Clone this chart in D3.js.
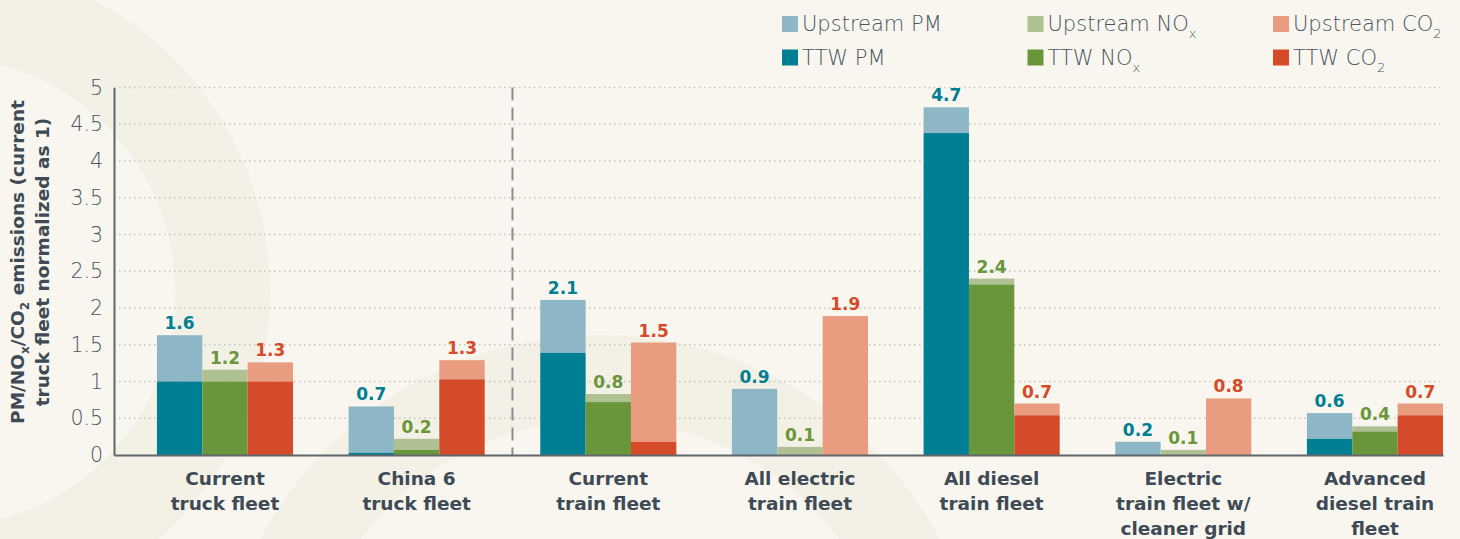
<!DOCTYPE html>
<html>
<head>
<meta charset="utf-8">
<script src="https://cdn.jsdelivr.net/npm/d3@7"></script>
<style>
  body { margin: 0; background: #f8f6ef; }
  svg { display: block; font-family: "DejaVu Sans", sans-serif; }
</style>
</head>
<body>
<div id="chart"></div>
<script>

// categories (line breaks as in the picture)
var categories = [
	["Current", "truck fleet"],
	["China 6", "truck fleet"],
	["Current", "train fleet"],
	["All electric", "train fleet"],
	["All diesel", "train fleet"],
	["Electric", "train fleet w/", "cleaner grid"],
	["Advanced", "diesel train", "fleet"]
];

// TTW = tank-to-wheel part, up = upstream part stacked on top
var ttwPM  = [1.00, 0.03, 1.39, 0.00, 4.38, 0.00, 0.22];
var upPM   = [0.63, 0.63, 0.72, 0.90, 0.35, 0.18, 0.35];
var ttwNOx = [1.00, 0.07, 0.72, 0.00, 2.32, 0.00, 0.32];
var upNOx  = [0.16, 0.15, 0.11, 0.11, 0.08, 0.07, 0.07];
var ttwCO2 = [1.00, 1.03, 0.18, 0.00, 0.54, 0.00, 0.54];
var upCO2  = [0.26, 0.26, 1.35, 1.89, 0.16, 0.77, 0.16];

var yTicks = [0, 0.5, 1, 1.5, 2, 2.5, 3, 3.5, 4, 4.5, 5];

var pollutants = ["PM", "NOx", "CO2"];
var ttwColor = { PM: "#007e93", NOx: "#6a963b", CO2: "#d54a28" };
var upColor  = { PM: "#8db6c6", NOx: "#afc192", CO2: "#e99c7f" };

var series = { PM: [ttwPM, upPM], NOx: [ttwNOx, upNOx], CO2: [ttwCO2, upCO2] };

var width = 1460, height = 539;
var axisLeftX = 114, axisRightX = 1443, y0 = 455, y5 = 87.5;
var textColor = "#3e4a55";

var svg = d3.select("#chart").append("svg")
		.attr("width", width)
		.attr("height", height);

svg.append("rect").attr("width", width).attr("height", height).attr("fill", "#f8f6ef");

// faint background rings
var ring = d3.arc().startAngle(0).endAngle(2 * Math.PI);
svg.append("path")
	.attr("transform", "translate(-60,292)")
	.attr("d", ring({ innerRadius: 235, outerRadius: 330 }))
	.attr("fill", "#f3f0e5");
svg.append("path")
	.attr("transform", "translate(600,720)")
	.attr("d", ring({ innerRadius: 300, outerRadius: 385 }))
	.attr("fill", "#f3f0e5");

var x0 = d3.scaleBand()
		.domain(d3.range(categories.length))
		.range([axisLeftX, axisRightX])
		.paddingInner(0.29)
		.paddingOuter(0.112)
		.align(1);
var x1 = d3.scaleBand().domain(pollutants).range([0, x0.bandwidth()]);
var y = d3.scaleLinear().domain([0, 5]).range([y0, y5]);

// dotted gridlines
svg.append("g").selectAll("line")
	.data(yTicks.filter(function(d) { return d > 0; }))
	.enter().append("line")
	.attr("x1", axisLeftX).attr("x2", axisRightX - 3)
	.attr("y1", function(d) { return y(d); })
	.attr("y2", function(d) { return y(d); })
	.attr("stroke", "#c6c5c0")
	.attr("stroke-width", 1.5)
	.attr("stroke-dasharray", "1.5,3.5");

// dashed divider between trucks and trains
var divX = (x0(1) + x0.bandwidth() + x0(2)) / 2;
svg.append("line")
	.attr("x1", divX).attr("x2", divX)
	.attr("y1", y(5)).attr("y2", y(0))
	.attr("stroke", "#8a8e93")
	.attr("stroke-width", 2)
	.attr("stroke-dasharray", "13,7");

// bars
var groups = svg.append("g").selectAll("g")
	.data(categories)
	.enter().append("g")
	.attr("transform", function(d, i) { return "translate(" + x0(i) + ",0)"; });

var fmt = d3.format(".1f");

pollutants.forEach(function(p) {
	var ttw = series[p][0], up = series[p][1];
	groups.append("rect")
		.attr("x", x1(p))
		.attr("width", x1.bandwidth())
		.attr("y", function(d, i) { return y(ttw[i] + up[i]); })
		.attr("height", function(d, i) { return y(ttw[i]) - y(ttw[i] + up[i]); })
		.attr("fill", upColor[p]);
	groups.append("rect")
		.attr("x", x1(p))
		.attr("width", x1.bandwidth())
		.attr("y", function(d, i) { return y(ttw[i]); })
		.attr("height", function(d, i) { return y(0) - y(ttw[i]); })
		.attr("fill", ttwColor[p]);
	groups.append("text")
		.attr("x", x1(p) + x1.bandwidth() / 2)
		.attr("y", function(d, i) { return y(ttw[i] + up[i]) - 6; })
		.attr("text-anchor", "middle")
		.attr("font-size", 17)
		.attr("font-weight", "bold")
		.attr("fill", ttwColor[p])
		.text(function(d, i) { return fmt(ttw[i] + up[i]); });
});

// axes
var yAxis = svg.append("g")
	.attr("transform", "translate(" + axisLeftX + ",0)")
	.call(d3.axisLeft(y).tickValues(yTicks).tickSize(0).tickPadding(11).tickFormat(d3.format("")));
yAxis.select(".domain").attr("stroke", "#60676d").attr("stroke-width", 2);
yAxis.selectAll("text")
	.attr("font-family", "DejaVu Sans, sans-serif")
	.attr("font-size", 20.5)
	.attr("font-weight", 300)
	.attr("fill", "#4a5560");

var xAxis = svg.append("g")
	.attr("transform", "translate(0," + y0 + ")")
	.call(d3.axisBottom(x0).tickSize(0).tickSizeOuter(0).tickFormat(""));
xAxis.select(".domain").attr("stroke", "#60676d").attr("stroke-width", 2);

xAxis.selectAll(".tick").each(function(i) {
	var t = d3.select(this).append("text")
		.attr("text-anchor", "middle")
		.attr("font-family", "DejaVu Sans, sans-serif")
		.attr("font-size", 18.5)
		.attr("font-weight", "bold")
		.attr("fill", textColor);
	categories[i].forEach(function(line, k) {
		t.append("tspan").attr("x", 0).attr("y", 30 + k * 25).text(line);
	});
});

// y axis title with subscripts
var yTitle = svg.append("text")
	.attr("transform", "translate(24,262) rotate(-90)")
	.attr("text-anchor", "middle")
	.attr("font-size", 18.5)
	.attr("font-weight", "bold")
	.attr("fill", textColor);
var l1 = yTitle.append("tspan").attr("x", 0).attr("y", 0);
l1.append("tspan").text("PM/NO");
l1.append("tspan").attr("font-size", 12).attr("dy", 5).text("x");
l1.append("tspan").attr("dy", -5).text("/CO");
l1.append("tspan").attr("font-size", 12).attr("dy", 5).text("2");
l1.append("tspan").attr("dy", -5).text(" emissions (current");
yTitle.append("tspan").attr("x", 0).attr("y", 25).text("truck fleet normalized as 1)");

// legend
var legendItems = [
	{ name: "Upstream PM", sub: "", color: upColor.PM },
	{ name: "Upstream NO", sub: "x", color: upColor.NOx },
	{ name: "Upstream CO", sub: "2", color: upColor.CO2 },
	{ name: "TTW PM", sub: "", color: ttwColor.PM },
	{ name: "TTW NO", sub: "x", color: ttwColor.NOx },
	{ name: "TTW CO", sub: "2", color: ttwColor.CO2 }
];
var legend = svg.append("g").selectAll("g")
	.data(legendItems)
	.enter().append("g")
	.attr("transform", function(d, i) { return "translate(" + (782 + (i % 3) * 245.5) + "," + (16 + Math.floor(i / 3) * 33.5) + ")"; });
legend.append("rect").attr("width", 16).attr("height", 16).attr("fill", function(d) { return d.color; });
var lt = legend.append("text")
	.attr("x", 20).attr("y", 15)
	.attr("font-size", 21)
	.attr("font-weight", 300)
	.attr("fill", "#4a5560");
lt.append("tspan").text(function(d) { return d.name; });
lt.append("tspan").attr("font-size", 13).attr("dy", 7).text(function(d) { return d.sub; });

</script>
</body>
</html>
